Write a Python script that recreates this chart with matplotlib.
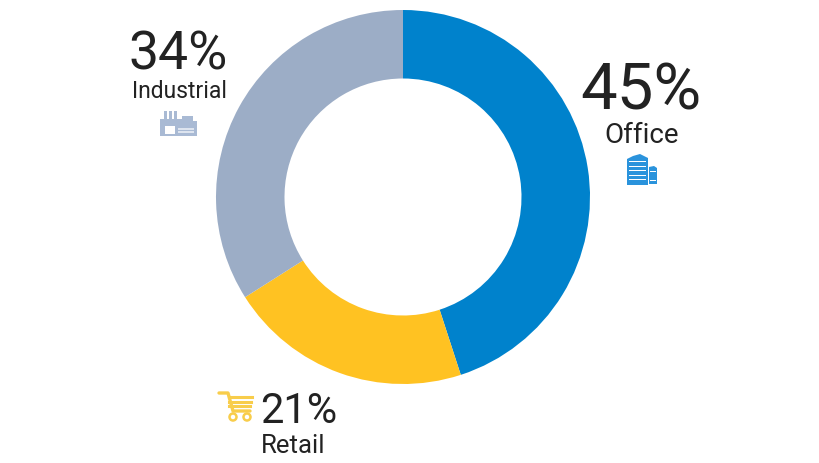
import matplotlib
matplotlib.use('Agg')
import matplotlib.pyplot as plt
from matplotlib.patches import Rectangle, Polygon, Circle

shares = [45, 21, 34]
names = ['Office', 'Retail', 'Industrial']
colors = ['#0082CC', '#FFC222', '#9CADC6']
text_col = '#222222'

plt.rcParams['font.family'] = ['Roboto', 'DejaVu Sans']

fig = plt.figure(figsize=(8.2, 4.64), dpi=100)
ax = fig.add_axes([0, 0, 1, 1])
ax.pie(shares, colors=colors, center=(403, 266), radius=187, startangle=90,
       counterclock=False, wedgeprops=dict(width=68.5, linewidth=0))
ax.set_xlim(0, 820)
ax.set_ylim(0, 464)
ax.set_aspect('auto')
ax.axis('off')

# overlay in pixel coordinates, y going down, for texts and icons
ov = fig.add_axes([0, 0, 1, 1])
ov.set_xlim(0, 820)
ov.set_ylim(464, 0)
ov.axis('off')
ov.patch.set_alpha(0)

ov.text(641, 91, f'{shares[0]}%', fontsize=47, color=text_col, ha='center', va='center')
ov.text(642, 136, names[0], fontsize=20, color=text_col, ha='center', va='center')
ov.text(178, 55, f'{shares[2]}%', fontsize=38.5, color=text_col, ha='center', va='center')
ov.text(179, 91, names[2], fontsize=16.5, color=text_col, ha='center', va='center')
ov.text(299, 412, f'{shares[1]}%', fontsize=30, color=text_col, ha='center', va='center')
ov.text(293, 446, names[1], fontsize=18.5, color=text_col, ha='center', va='center')

# office icon
blue = '#2A93DC'
ov.add_patch(Polygon([(627, 160), (633, 157), (640, 155), (648, 159), (648, 186), (627, 186)], color=blue, lw=0))
ov.add_patch(Polygon([(649, 168), (654, 167), (657, 169), (657, 185), (649, 185)], color=blue, lw=0))
for yy in [162, 166.5, 171, 175.5, 180]:
    ov.add_patch(Rectangle((629, yy), 17, 1, color='white', lw=0))
    ov.add_patch(Rectangle((650, yy + 1), 6, 0.7, color='white', lw=0))

# industrial icon
grey = '#A9BAD4'
ov.add_patch(Polygon([(160, 137), (160, 120), (182, 120), (182, 117), (193, 117), (193, 122), (197, 122), (197, 137)], color=grey, lw=0))
for xx in [164.5, 169.5, 174.5]:
    ov.add_patch(Rectangle((xx, 112), 2.2, 9, color=grey, lw=0))
ov.add_patch(Rectangle((165, 127), 10, 8, color='white', lw=0))
for yy in [129, 132]:
    ov.add_patch(Rectangle((178, yy), 16, 1.5, color='#DDE4EF', lw=0))

# retail icon
yellow = '#F8CD4B'
ov.plot([219, 228, 233, 250], [394, 394, 412, 412], color=yellow, lw=2.4, solid_capstyle='round')
for yy, x1 in zip([398, 402.5, 407], [252, 251, 250]):
    ov.plot([229, x1], [yy, yy], color=yellow, lw=2.2)
for xx in [233, 247]:
    ov.add_patch(Circle((xx, 418), 3.5, fill=False, ec=yellow, lw=1.8))

fig.savefig('out.png', dpi=100)
